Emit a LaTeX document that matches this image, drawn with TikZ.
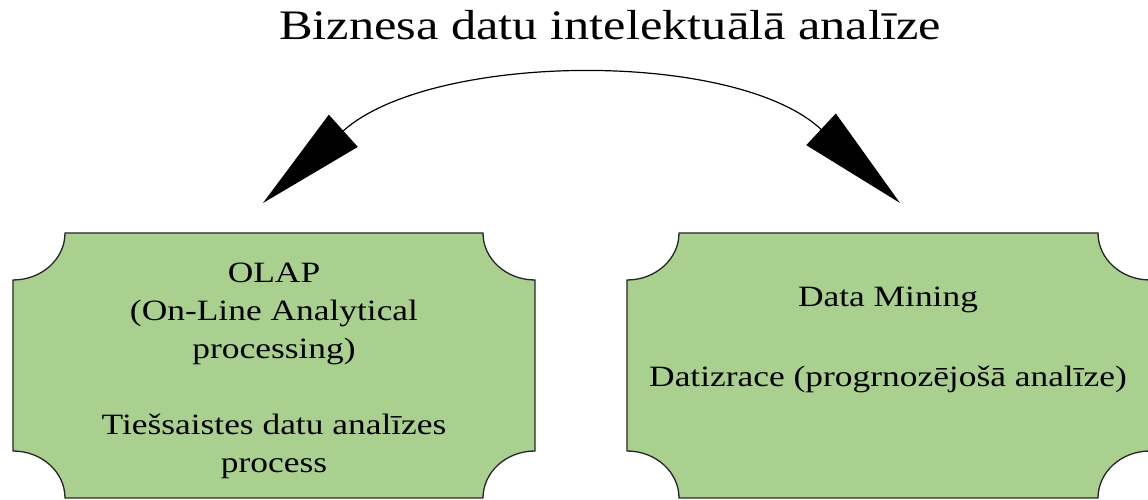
\documentclass[tikz,border=0pt]{standalone}
\usepackage{fontspec}
\setmainfont{Liberation Serif}[FakeStretch=1.2]
\usetikzlibrary{arrows.meta}
\definecolor{boxgreen}{HTML}{A9D08E}
\definecolor{edgegray}{HTML}{262626}

% rectangle whose four corners are cut inward by quarter ellipses
% arguments: x0, y0, x1, y1
\newcommand\notchbox[4]{%
  \path[cutbox] (#1+52,#4) -- (#3-52,#4)
     arc[start angle=180,end angle=270,x radius=52,y radius=47]
     -- (#3,#2+47)
     arc[start angle=90,end angle=180,x radius=52,y radius=47]
     -- (#1+52,#2)
     arc[start angle=0,end angle=90,x radius=52,y radius=47]
     -- (#1,#4-47)
     arc[start angle=270,end angle=360,x radius=52,y radius=47]
     -- cycle;}

\begin{document}
\begin{tikzpicture}[x=1pt,y=1pt,
  cutbox/.style={fill=boxgreen, draw=edgegray, line width=1.3pt},
  boxtext/.style={align=center, inner sep=0pt,
    font=\fontsize{29.5}{38}\selectfont},
  bigtip/.tip={Triangle[length=108pt,width=43pt]}
]
\useasboundingbox (0,0) rectangle (1148,500);

% the two green panels
\notchbox{13}{2}{535}{267}
\notchbox{627}{2}{1150}{267}

% heading
\node[anchor=base, inner sep=0pt, font=\fontsize{42}{50}\selectfont]
  (title) at (610,460) {Biznesa datu intelektuālā analīze};

% panel texts
\node[boxtext] (olap) at (274,129.5)
  {OLAP\\(On-Line Analytical\\processing)\\[38pt]Tiešsaistes datu analīzes\\process};
\node[boxtext] (dm) at (888,160.5)
  {Data Mining\\[42pt]Datizrace (progrnozējošā analīze)};

% double-headed arc between the panels
\coordinate (ltip) at (263,297);
\coordinate (rtip) at (900,297);
\draw[black, line width=1.2pt, bigtip-bigtip]
  (ltip) .. controls (431,448) and (735,451) .. (rtip);
\end{tikzpicture}
\end{document}
